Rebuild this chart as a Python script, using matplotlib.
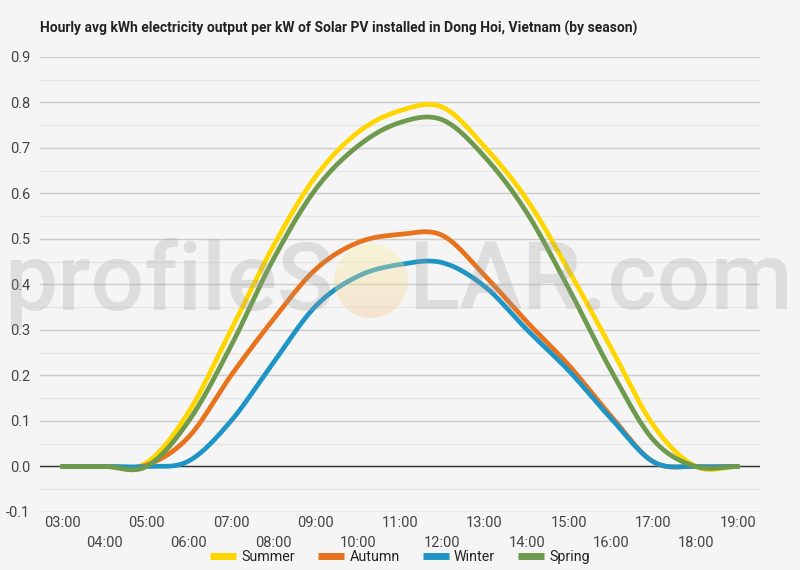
import numpy as np
import matplotlib
matplotlib.use("Agg")
import matplotlib.pyplot as plt
from matplotlib.patches import Circle

plt.rcParams['font.family'] = ['Roboto', 'DejaVu Sans']

hours = list(range(3, 20))
hour_labels = [f"{h:02d}:00" for h in hours]

summer = [0.0, 0.0, 0.008, 0.12, 0.30, 0.484, 0.637, 0.734, 0.782, 0.79, 0.703, 0.587, 0.43, 0.26, 0.09, 0.0, 0.0]
autumn = [0.0, 0.0, 0.003, 0.065, 0.20, 0.323, 0.433, 0.492, 0.51, 0.508, 0.42, 0.318, 0.222, 0.11, 0.01, 0.0, 0.0]
winter = [0.0, 0.0, 0.0, 0.012, 0.10, 0.228, 0.352, 0.418, 0.444, 0.448, 0.396, 0.301, 0.21, 0.105, 0.01, 0.0, 0.0]
spring = [0.0, 0.0, 0.0, 0.10, 0.265, 0.455, 0.609, 0.704, 0.756, 0.762, 0.681, 0.558, 0.39, 0.21, 0.058, 0.0, 0.0]

series = [("Summer", summer, "#ffd600"),
          ("Autumn", autumn, "#e8731c"),
          ("Winter", winter, "#1f95c6"),
          ("Spring", spring, "#6e9a4e")]

title = "Hourly avg kWh electricity output per kW of Solar PV installed in Dong Hoi, Vietnam (by season)"
bg = "#f5f5f5"


def smooth(xs, ys, n=30):
    # catmull-rom through every point, like the chart's curved lines
    xs = np.asarray(xs, float)
    ys = np.asarray(ys, float)
    out_x, out_y = [], []
    t = np.linspace(0, 1, n, endpoint=False)
    h00 = 2 * t**3 - 3 * t**2 + 1
    h10 = t**3 - 2 * t**2 + t
    h01 = -2 * t**3 + 3 * t**2
    h11 = t**3 - t**2
    for i in range(len(xs) - 1):
        p0 = ys[max(i - 1, 0)]
        p1, p2 = ys[i], ys[i + 1]
        p3 = ys[min(i + 2, len(ys) - 1)]
        m1 = (p2 - p0) / 2
        m2 = (p3 - p1) / 2
        out_x.append(xs[i] + t * (xs[i + 1] - xs[i]))
        out_y.append(h00 * p1 + h10 * m1 + h01 * p2 + h11 * m2)
    out_x.append([xs[-1]])
    out_y.append([ys[-1]])
    return np.concatenate(out_x), np.concatenate(out_y)


fig = plt.figure(figsize=(8, 5.7), dpi=100, facecolor=bg)
ax = fig.add_axes([0.05, 0.1018, 0.9, 0.7982], facecolor=bg)

for name, vals, col in series:
    sx, sy = smooth(hours, vals)
    ax.plot(sx, sy, color=col, lw=3.4, label=name, solid_capstyle='round', zorder=3)

ax.set_xlim(2.48, 19.52)
ax.set_ylim(-0.1, 0.9)
ax.set_yticks(np.arange(-0.1, 0.91, 0.1))
ax.set_yticklabels([f"{v:.1f}" for v in np.arange(-0.1, 0.91, 0.1)])
ax.set_yticks(np.arange(-0.05, 0.9, 0.1), minor=True)
ax.grid(axis='y', which='major', color='#cccccc', lw=1)
ax.grid(axis='y', which='minor', color='#e6e6e6', lw=1)
ax.axhline(0, color='#333333', lw=1, zorder=2)
ax.set_axisbelow(True)

ax.set_xticks(hours[::2])
ax.set_xticklabels(hour_labels[::2])
ax.set_xticks(hours[1::2], minor=True)
ax.set_xticklabels(hour_labels[1::2], minor=True)
ax.tick_params(axis='x', which='major', length=0, pad=3, labelsize=10.5, labelcolor='#444444')
ax.tick_params(axis='x', which='minor', length=0, pad=17, labelsize=10.5, labelcolor='#444444')
ax.tick_params(axis='y', which='both', length=0, pad=7, labelsize=10.5, labelcolor='#444444')
for s in ax.spines.values():
    s.set_visible(False)

fig.text(0.05, 1 - 28 / 570, title, fontsize=10, fontweight='bold', color='#222222', va='center', ha='left')

leg = fig.legend(loc='center', bbox_to_anchor=(0.5, 1 - 557 / 570), ncol=4, frameon=False,
                 fontsize=10.3, handlelength=1.85, handletextpad=0.35, columnspacing=1.6)
for line in leg.get_lines():
    line.set_linewidth(5)
    line.set_solid_capstyle('butt')
for txt in leg.get_texts():
    txt.set_color('#222222')

# watermark overlay in pixel coords
wm = fig.add_axes([0, 0, 1, 1], zorder=10)
wm.set_xlim(0, 800)
wm.set_ylim(570, 0)
wm.axis('off')
wm.patch.set_alpha(0)
wm.text(334, 283, "profileS", fontsize=68, color='#9a9a9a', alpha=0.26, ha='right', va='center', fontweight='medium')
wm.text(408, 283, "LAR.com", fontsize=68, color='#9a9a9a', alpha=0.26, ha='left', va='center', fontweight='medium')
grad = np.linspace(0, 1, 100).reshape(-1, 1)
cmap = matplotlib.colors.LinearSegmentedColormap.from_list('sun', ['#fbf39a', '#f1c58c'])
img = wm.imshow(grad, cmap=cmap, extent=(334, 408, 318, 244), alpha=0.35, aspect='auto', zorder=5)
circ = Circle((371, 281), 37, transform=wm.transData, facecolor='none', edgecolor='none')
wm.add_patch(circ)
img.set_clip_path(circ)

fig.savefig("out.png", dpi=100, facecolor=bg)
